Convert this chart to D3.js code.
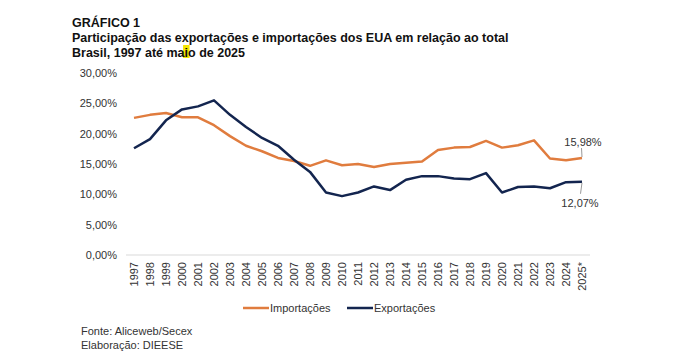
<!DOCTYPE html>
<html>
<head>
<meta charset="utf-8">
<script src="https://cdn.jsdelivr.net/npm/d3@7"></script>
<style>
  body { margin: 0; background: #fff; }
  svg { font-family: "Liberation Sans", Arial, sans-serif; }
</style>
</head>
<body>
<svg width="689" height="364"></svg>
<script>
var years = ["1997","1998","1999","2000","2001","2002","2003","2004","2005","2006","2007","2008","2009","2010",
  "2011","2012","2013","2014","2015","2016","2017","2018","2019","2020","2021","2022","2023","2024","2025*"];
var importacoes = [22.6,23.1,23.4,22.7,22.7,21.4,19.6,18.0,17.1,16.0,15.5,14.7,15.6,14.8,
  15.0,14.5,15.0,15.2,15.4,17.3,17.7,17.8,18.8,17.7,18.1,18.9,15.9,15.6,15.98];
var exportacoes = [17.6,19.1,22.2,24.0,24.5,25.5,23.1,21.1,19.3,18.0,15.7,13.7,10.3,9.7,
  10.3,11.3,10.7,12.4,13.0,13.0,12.6,12.5,13.5,10.3,11.2,11.3,11.0,12.0,12.07];
var yTicks = [0,5,10,15,20,25,30];

var titleLines = ["GRÁFICO 1",
  "Participação das exportações e importações dos EUA em relação ao total",
  "Brasil, 1997 até maio de 2025"];

var orange = "#e07c3e", navy = "#13254f";

var svg = d3.select("svg");

var hl = svg.append("rect").attr("fill", "#f5e600");

var titles = svg.selectAll("text.title").data(titleLines).enter()
  .append("text").attr("class", "title")
  .attr("x", 72).attr("y", function (d, i) { return 27 + i * 15; })
  .attr("font-size", 12.5).attr("font-weight", "bold").attr("fill", "#111")
  .text(function (d) { return d; });

// marcador amarelo sobre o "i" de "maio", como na imagem original
var box = titles.nodes()[2].getExtentOfChar(19);
hl.attr("x", box.x - 1.5).attr("y", 45).attr("width", box.width + 3).attr("height", 13);

var x = d3.scalePoint().domain(years).range([134, 582]);
var y = d3.scaleLinear().domain([0, 30]).range([255, 73]);

var fmt = function (v) { return d3.format(".2f")(v).replace(".", ",") + "%"; };

var yAxis = svg.append("g").attr("transform", "translate(125,0)")
  .call(d3.axisLeft(y).tickValues(yTicks).tickSize(0).tickPadding(8).tickFormat(fmt));
yAxis.select(".domain").remove();
yAxis.selectAll("text").attr("font-size", 11).attr("fill", "#333")
  .attr("font-family", "Liberation Sans, Arial, sans-serif");

var xAxis = svg.append("g").attr("transform", "translate(0,255)")
  .call(d3.axisBottom(x).tickSize(0).tickPadding(0));
xAxis.select(".domain").attr("stroke", "#d9d9d9").attr("d", "M126,0H590");
xAxis.selectAll("text")
  .attr("font-size", 11).attr("fill", "#333")
  .attr("font-family", "Liberation Sans, Arial, sans-serif")
  .attr("text-anchor", "end")
  .attr("transform", "translate(0,7) rotate(-90)")
  .attr("dy", "0.35em").attr("y", 0).attr("x", 0);

var line = d3.line().x(function (d, i) { return x(years[i]); }).y(function (d) { return y(d); });

svg.append("path").datum(importacoes).attr("d", line)
  .attr("fill", "none").attr("stroke", orange).attr("stroke-width", 2.5).attr("stroke-linejoin", "round");
svg.append("path").datum(exportacoes).attr("d", line)
  .attr("fill", "none").attr("stroke", navy).attr("stroke-width", 2.5).attr("stroke-linejoin", "round");

// rótulos do último valor
var last = years.length - 1;
var lx = x(years[last]);
svg.append("line").attr("x1", lx).attr("y1", y(importacoes[last]) - 1).attr("x2", lx - 0.5).attr("y2", y(importacoes[last]) - 10)
  .attr("stroke", "#999").attr("stroke-width", 1);
svg.append("text").attr("x", lx + 1).attr("y", y(importacoes[last]) - 12)
  .attr("text-anchor", "middle").attr("font-size", 11).attr("fill", "#333").text(fmt(importacoes[last]));
svg.append("line").attr("x1", lx).attr("y1", y(exportacoes[last]) + 1).attr("x2", lx - 1.5).attr("y2", y(exportacoes[last]) + 12)
  .attr("stroke", "#999").attr("stroke-width", 1);
svg.append("text").attr("x", lx - 2).attr("y", y(exportacoes[last]) + 25)
  .attr("text-anchor", "middle").attr("font-size", 11).attr("fill", "#333").text(fmt(exportacoes[last]));

// legenda
var legend = [{ name: "Importações", color: orange, x: 243 }, { name: "Exportações", color: navy, x: 347 }];
var lg = svg.selectAll("g.legend").data(legend).enter().append("g").attr("class", "legend")
  .attr("transform", function (d) { return "translate(" + d.x + ",308)"; });
lg.append("line").attr("x1", 0).attr("x2", 26).attr("stroke", function (d) { return d.color; }).attr("stroke-width", 2.5);
lg.append("text").attr("x", 27).attr("y", 4).attr("font-size", 11).attr("fill", "#333")
  .text(function (d) { return d.name; });

svg.append("text").attr("x", 81).attr("y", 335).attr("font-size", 11).attr("fill", "#333").text("Fonte: Aliceweb/Secex");
svg.append("text").attr("x", 81).attr("y", 349).attr("font-size", 11).attr("fill", "#333").text("Elaboração: DIEESE");
</script>
</body>
</html>
